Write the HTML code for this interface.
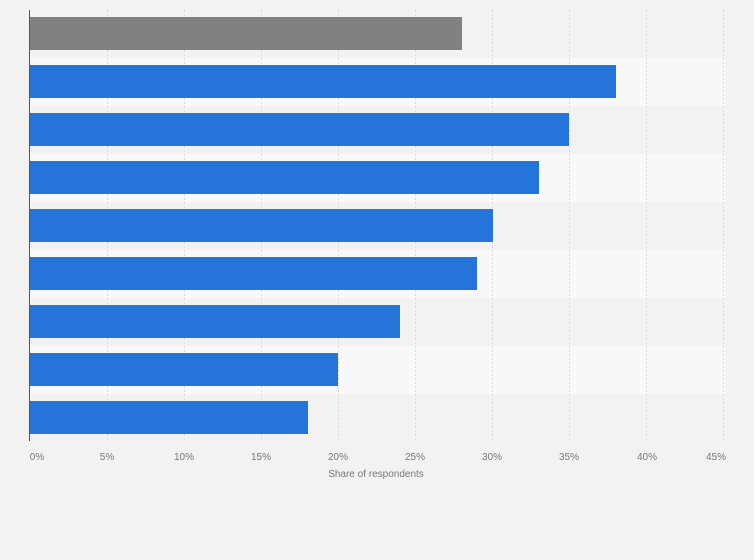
<!DOCTYPE html>
<html><head><style>
html,body{margin:0;padding:0;background:#f2f2f2;}
svg{display:block;font-family:"Liberation Sans",sans-serif;}
</style></head><body>
<svg width="754" height="560" viewBox="0 0 754 560">
<rect width="754" height="560" fill="#f2f2f2"/>
<g fill="#f8f8f8">
<rect x="30" y="58" width="695" height="48"/>
<rect x="30" y="154" width="695" height="48"/>
<rect x="30" y="250" width="695" height="48"/>
<rect x="30" y="346" width="695" height="48"/>
</g>
<g stroke="#dcdcdc" stroke-dasharray="2,2" stroke-width="1">
<line x1="107.5" y1="10" x2="107.5" y2="441"/>
<line x1="184.5" y1="10" x2="184.5" y2="441"/>
<line x1="261.5" y1="10" x2="261.5" y2="441"/>
<line x1="338.5" y1="10" x2="338.5" y2="441"/>
<line x1="415.5" y1="10" x2="415.5" y2="441"/>
<line x1="492.5" y1="10" x2="492.5" y2="441"/>
<line x1="569.5" y1="10" x2="569.5" y2="441"/>
<line x1="646.5" y1="10" x2="646.5" y2="441"/>
<line x1="723.5" y1="10" x2="723.5" y2="441"/>
</g>
<rect x="30" y="17" width="432" height="33" fill="#808080"/>
<g fill="#2574da">
<rect x="30" y="65" width="586" height="33"/>
<rect x="30" y="113" width="539" height="33"/>
<rect x="30" y="161" width="509" height="33"/>
<rect x="30" y="209" width="463" height="33"/>
<rect x="30" y="257" width="447" height="33"/>
<rect x="30" y="305" width="370" height="33"/>
<rect x="30" y="353" width="308" height="33"/>
<rect x="30" y="401" width="278" height="33"/>
</g>
<line x1="29.5" y1="10" x2="29.5" y2="441" stroke="#555" stroke-width="1"/>
<g fill="#777" font-size="10" text-anchor="middle">
<text x="37" y="460">0%</text>
<text x="107" y="460">5%</text>
<text x="184" y="460">10%</text>
<text x="261" y="460">15%</text>
<text x="338" y="460">20%</text>
<text x="415" y="460">25%</text>
<text x="492" y="460">30%</text>
<text x="569" y="460">35%</text>
<text x="647" y="460">40%</text>
<text x="716" y="460">45%</text>
</g>
<text x="376" y="477" fill="#777" font-size="10" text-anchor="middle">Share of respondents</text>
</svg>
</body></html>
